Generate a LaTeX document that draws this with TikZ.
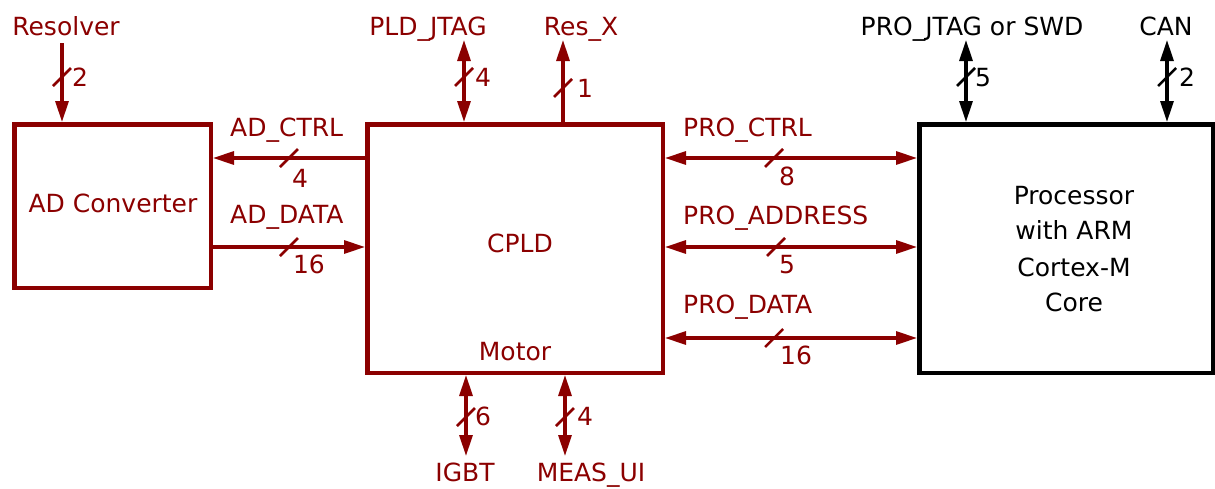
\documentclass[tikz,border=0pt]{standalone}
\usepackage{fontspec}
\setmainfont{DejaVu Sans}
\usetikzlibrary{arrows.meta}
\definecolor{dred}{RGB}{139,0,0}
\begin{document}
\begin{tikzpicture}[x=1pt,y=-1pt,
  font=\fontsize{25}{30}\selectfont,
  redbox/.style={draw=dred, line width=4.5pt, inner sep=0pt, fill=white},
  blackbox/.style={draw=black, line width=4.5pt, inner sep=0pt, fill=white},
  sig/.style={line width=3.2pt, dred},
  bsig/.style={line width=3.2pt, black},
  tipe/.style={-{Triangle[length=21pt,width=13pt]}},
  tips/.style={{Triangle[length=21pt,width=13pt]}-},
  tipb/.style={{Triangle[length=21pt,width=13pt]}-{Triangle[length=21pt,width=13pt]}},
  rtxt/.style={text=dred, inner sep=0pt, anchor=base},
  rtxtw/.style={text=dred, inner sep=0pt, anchor=base west},
  btxt/.style={text=black, inner sep=0pt, anchor=base},
  slashr/.style={line width=2.5pt, dred},
  slashb/.style={line width=2.5pt, black}
]
\useasboundingbox (0,0) rectangle (1215,488);

% boxes
\node[redbox, minimum width=196.5pt, minimum height=163.5pt] (ad) at (112.5,206) {};
\node[redbox, minimum width=295.5pt, minimum height=248.5pt] (cpld) at (515,248.5) {};
\node[blackbox, minimum width=293.5pt, minimum height=248.5pt] (proc) at (1066,248.5) {};

% box texts
\node[rtxt] (adt) at (113,212) {AD Converter};
\node[rtxt] (cpldt) at (520,252) {CPLD};
\node[rtxt] (motort) at (515,360) {Motor};
\node[btxt] (p1) at (1074,204) {Processor};
\node[btxt] (p2) at (1074,239) {with ARM};
\node[btxt] (p3) at (1074,276) {Cortex-M};
\node[btxt] (p4) at (1074,311) {Core};

% outer labels
\node[rtxt] (resl) at (66,35) {Resolver};
\node[rtxt] (pldl) at (428,35) {PLD\_JTAG};
\node[rtxt] (resxl) at (581,35) {Res\_X};
\node[btxt] (proj) at (972,35) {PRO\_JTAG or SWD};
\node[btxt] (canl) at (1166,35) {CAN};
\node[rtxt] (igbtl) at (465,481) {IGBT};
\node[rtxt] (measl) at (591,481) {MEAS\_UI};
\node[rtxtw] (adctrl) at (230,136) {AD\_CTRL};
\node[rtxtw] (addata) at (230,223) {AD\_DATA};
\node[rtxtw] (proctrl) at (683,136) {PRO\_CTRL};
\node[rtxtw] (proaddr) at (683,224) {PRO\_ADDRESS};
\node[rtxtw] (prodata) at (683,313) {PRO\_DATA};

% free ends
\coordinate (resE) at (62,43);
\coordinate (pldE) at (464,40);
\coordinate (resxE) at (563,40);
\coordinate (igbtE) at (466,456);
\coordinate (measE) at (565,456);
\coordinate (projE) at (966,40);
\coordinate (canE) at (1167,40);

% vertical connectors
\draw[sig,tipe] (resE) -- (resE |- ad.north);
\draw[sig,tipb] (pldE) -- (pldE |- cpld.north);
\draw[sig,tips] (resxE) -- (resxE |- cpld.north);
\draw[sig,tipb] (igbtE |- cpld.south) -- (igbtE);
\draw[sig,tipb] (measE |- cpld.south) -- (measE);
\draw[bsig,tipb] (projE) -- (projE |- proc.north);
\draw[bsig,tipb] (canE) -- (canE |- proc.north);

% horizontal connectors
\draw[sig,tips] (ad.east |- 0,158) -- (cpld.west |- 0,158);
\draw[sig,tipe] (ad.east |- 0,247) -- (cpld.west |- 0,247);
\draw[sig,tipb] (cpld.east |- 0,158) -- (proc.west |- 0,158);
\draw[sig,tipb] (cpld.east |- 0,247) -- (proc.west |- 0,247);
\draw[sig,tipb] (cpld.east |- 0,338) -- (proc.west |- 0,338);

% bus slashes
\foreach \sx/\sy/\st in {62/77/slashr, 464/77/slashr, 563/88/slashr, 466/417/slashr, 565/417/slashr,
  966/77/slashb, 1167/77/slashb, 289/158/slashr, 289/247/slashr, 774/158/slashr, 776/247/slashr, 774/338/slashr}
  \draw[\st] (\sx-9,\sy+9) -- (\sx+9,\sy-9);

% bus widths
\node[rtxt] (n1) at (80,86) {2};
\node[rtxt] (n2) at (483,86) {4};
\node[rtxt] (n3) at (585,97) {1};
\node[btxt] (n4) at (983,86) {5};
\node[btxt] (n5) at (1187,86) {2};
\node[rtxt] (n6) at (483,425) {6};
\node[rtxt] (n7) at (585,425) {4};
\node[rtxt] (n8) at (300,187) {4};
\node[rtxt] (n9) at (309,273) {16};
\node[rtxt] (n10) at (787,185) {8};
\node[rtxt] (n11) at (787,273) {5};
\node[rtxt] (n12) at (796,364) {16};
\end{tikzpicture}
\end{document}
